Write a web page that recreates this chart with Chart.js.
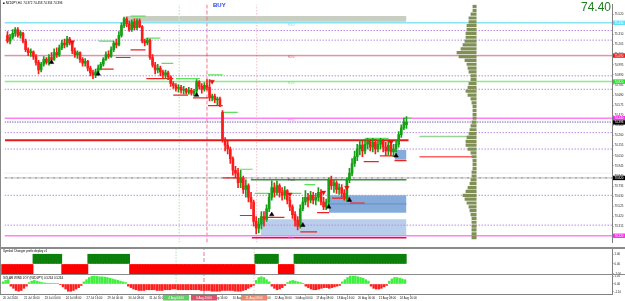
<!DOCTYPE html>
<html><head><meta charset="utf-8">
<script src="https://cdn.jsdelivr.net/npm/chart.js@4.4.1/dist/chart.umd.min.js"></script>
<style>
html,body{margin:0;padding:0;background:#fff;}
body{width:625px;height:301px;position:relative;overflow:hidden;}
canvas{position:absolute;left:0;}
.sep{position:absolute;left:0;width:625px;background:#8a8a8a;}
</style></head><body>
<canvas id="ca" width="625" height="247" style="top:0"></canvas>
<div class="sep" style="top:247px;height:2px"></div>
<canvas id="cb" width="625" height="25" style="top:249px"></canvas>
<div class="sep" style="top:274px;height:1px"></div>
<canvas id="cc" width="625" height="26" style="top:275px"></canvas>
<div style="position:absolute;left:0;top:0;width:1px;height:294px;background:#8a8a8a"></div>
<script>
// ---------------- DATA ----------------
const symbolTitle = "NZDJPY,H4  74.372 74.458 74.334 74.396";
const opens = [75.30,75.24,75.28,75.32,75.36,75.30,75.32,75.24,75.15,75.12,
75.13,75.08,75.02,74.94,75.00,75.05,75.02,75.07,75.05,75.12,
75.10,75.17,75.22,75.20,75.26,75.22,75.14,75.10,75.12,75.05,
75.01,75.03,74.96,74.91,74.89,74.92,74.96,75.00,75.05,75.10,
75.08,75.15,75.22,75.20,75.30,75.40,75.47,75.42,75.36,75.44,
75.38,75.45,75.39,75.24,75.22,75.25,75.07,74.99,74.94,74.96,
74.92,74.89,74.91,74.87,74.80,74.78,74.75,74.76,74.73,74.74,
74.71,74.73,74.70,74.72,74.82,74.77,74.74,74.78,74.76,74.65,
74.67,74.63,74.64,74.50,74.22,74.16,74.12,74.02,73.90,73.87,
73.77,73.82,73.70,73.74,73.62,73.57,73.37,73.30,73.34,73.42,
73.39,73.50,73.62,73.72,73.67,73.74,73.67,73.64,73.69,73.59,
73.52,73.44,73.38,73.32,73.50,73.57,73.62,73.59,73.64,73.59,
73.62,73.67,73.57,73.52,73.57,73.80,73.74,73.77,73.70,73.72,
73.66,73.62,73.80,73.87,73.97,74.04,74.12,74.16,74.10,74.17,
74.20,74.14,74.19,74.12,74.17,74.20,74.14,74.10,74.16,74.09,
74.12,74.17,74.27,74.34,74.372];
const highs = [75.34,75.31,75.36,75.38,75.38,75.35,75.33,75.26,75.17,75.16,
75.14,75.10,75.04,75.02,75.08,75.07,75.10,75.12,75.16,75.17,
75.20,75.25,75.26,75.29,75.28,75.24,75.17,75.14,75.13,75.07,
75.06,75.04,74.98,74.94,74.95,74.99,75.02,75.07,75.13,75.14,
75.18,75.24,75.26,75.34,75.43,75.49,75.49,75.45,75.46,75.47,
75.47,75.47,75.40,75.26,75.27,75.26,75.10,75.02,75.00,74.98,
74.94,74.94,74.93,74.88,74.82,74.80,74.79,74.78,74.77,74.75,
74.76,74.75,74.74,74.84,74.83,74.80,74.81,74.84,74.84,74.69,
74.69,74.66,74.66,74.52,74.24,74.20,74.14,74.04,73.94,73.92,
73.90,73.84,73.80,73.76,73.67,73.59,73.42,73.40,73.47,73.47,
73.54,73.66,73.79,73.77,73.79,73.76,73.72,73.73,73.70,73.62,
73.54,73.47,73.42,73.54,73.62,73.69,73.66,73.68,73.67,73.66,
73.72,73.70,73.62,73.60,73.82,73.84,73.80,73.79,73.76,73.75,
73.70,73.82,73.92,74.02,74.10,74.17,74.21,74.20,74.22,74.23,
74.22,74.23,74.22,74.21,74.23,74.22,74.19,74.20,74.18,74.17,
74.21,74.30,74.37,74.44,74.458];
const lows = [75.22,75.21,75.26,75.29,75.28,75.27,75.22,75.13,75.09,75.08,
75.05,74.99,74.90,74.92,74.98,75.00,74.99,75.01,75.04,75.07,
75.08,75.15,75.17,75.18,75.20,75.11,75.07,75.06,75.02,74.98,
74.98,74.93,74.88,74.85,74.86,74.90,74.94,74.98,75.04,75.06,
75.07,75.13,75.17,75.19,75.28,75.38,75.39,75.34,75.34,75.36,
75.36,75.38,75.22,75.19,75.20,75.05,74.97,74.90,74.91,74.88,
74.86,74.85,74.84,74.77,74.75,74.72,74.71,74.70,74.69,74.69,
74.69,74.68,74.67,74.69,74.74,74.70,74.72,74.73,74.62,74.62,
74.60,74.58,74.56,74.19,74.10,74.07,73.97,73.85,73.82,73.72,
73.72,73.66,73.62,73.57,73.50,73.32,73.24,73.25,73.29,73.32,
73.37,73.47,73.59,73.62,73.64,73.62,73.59,73.60,73.55,73.48,
73.40,73.32,73.28,73.30,73.48,73.54,73.52,73.56,73.55,73.54,
73.58,73.54,73.49,73.49,73.54,73.70,73.67,73.66,73.65,73.62,
73.59,73.58,73.77,73.84,73.94,74.00,74.06,74.04,74.07,74.12,
74.10,74.09,74.07,74.09,74.12,74.09,74.05,74.06,74.05,74.04,
74.09,74.14,74.24,74.32,74.334];
const closes = [75.24,75.28,75.32,75.36,75.30,75.33,75.24,75.15,75.12,75.13,
75.08,75.02,74.94,75.00,75.05,75.02,75.07,75.05,75.12,75.10,
75.17,75.22,75.20,75.26,75.22,75.14,75.10,75.12,75.05,75.01,
75.03,74.96,74.91,74.89,74.92,74.96,75.00,75.05,75.10,75.08,
75.15,75.22,75.20,75.30,75.40,75.47,75.42,75.36,75.44,75.38,
75.45,75.39,75.24,75.22,75.25,75.07,74.99,74.94,74.96,74.92,
74.89,74.91,74.87,74.80,74.78,74.75,74.76,74.73,74.74,74.71,
74.73,74.70,74.72,74.82,74.77,74.74,74.78,74.76,74.65,74.67,
74.63,74.64,74.58,74.22,74.16,74.12,74.02,73.90,73.87,73.77,
73.82,73.70,73.74,73.62,73.57,73.37,73.30,73.34,73.42,73.39,
73.50,73.62,73.72,73.67,73.74,73.67,73.64,73.69,73.59,73.52,
73.44,73.38,73.32,73.50,73.57,73.62,73.59,73.64,73.59,73.62,
73.67,73.57,73.52,73.57,73.80,73.74,73.77,73.70,73.72,73.66,
73.62,73.80,73.87,73.97,74.04,74.12,74.16,74.10,74.17,74.20,
74.14,74.19,74.12,74.17,74.20,74.14,74.10,74.16,74.09,74.12,
74.17,74.27,74.34,74.40,74.396];

const dateTickIdx = [0,8,16,24,32,40,48,56,64,72,80,88,96,104,112,120,128,136,144,152];
const dateLabels = ["20 Jul 2020","21 Jul 16:00","23 Jul 00:00","24 Jul 08:00","27 Jul 16:00","29 Jul 00:00","30 Jul 08:00","31 Jul 16:00","4 Aug 00:00","5 Aug 08:00","6 Aug 16:00","10 Aug 00:00","11 Aug 08:00","12 Aug 16:00","14 Aug 00:00","17 Aug 08:00","18 Aug 16:00","20 Aug 00:00","21 Aug 08:00","24 Aug 16:00"];
const priceTicks = [75.520,75.415,75.310,75.205,75.100,74.995,74.890,74.785,74.680,74.575,74.470,74.365,74.260,74.155,74.050,73.945,73.840,73.735,73.630,73.525,73.420,73.315,73.210];

// full-width levels
const levelPrices = [75.43,75.35,75.25,75.09,74.88,74.82,74.74,74.44,74.40,74.29,74.12,73.87,73.82,73.64,73.33,73.22];
const levelKinds  = ["cyan","dot","dot","res","dot","sup","dot","mag","cur","dot","dot","pale","pivot","dot","dot","mag"];
// partial levels
const partFrom  = [-1, 93.9, 94.3, 159, 159, 124.1];
const partTo    = [154.8, 154, 154, 179.7, 179.7, 154];
const partPrice = [74.21, 73.80, 73.20, 74.25, 74.04, 73.55];
const partKinds = ["red","pgreen","pred","lgreen","lred","blue"];
// zones
const zoneFrom   = [45.6, 97.7, 124.1, 149.4];
const zoneTo     = [154, 154, 154, 154];
const zoneTop    = [75.50, 73.39, 73.64, 74.11];
const zoneBottom = [75.44, 73.22, 73.46, 74.01];
const zoneKinds  = ["gray","lblue","mblue","mblue"];
// swing segments
const swingHighFrom  = [35.2,47.5,53.3,59.4,65.0,77.4,83.1,89.7,95.4,108.8,114.6,137.9,152.9];
const swingHighTo    = [41.0,53.3,59.0,64.0,74.3,83.1,88.9,94.6,101.1,113.4,118.8,147.1,156.0];
const swingHighPrice = [75.24,75.50,75.27,75.01,74.85,74.89,74.50,73.91,73.66,73.66,73.75,74.23,74.44];
const swingLowFrom  = [35.2,41.8,47.5,53.6,64.0,71.6,77.4,83.1,89.7,97.7,113.0,119.5,125.3,132.2,137.5,143.7,149.4];
const swingLowTo    = [41.0,47.5,53.3,64.0,69.7,77.4,83.1,88.9,94.6,106.9,119.5,124.1,132.2,137.9,143.3,149.4,154.0];
const swingLowPrice = [74.95,75.07,75.15,74.85,74.68,74.65,74.57,73.82,73.43,73.41,73.26,73.46,73.61,73.56,73.99,74.05,74.00];
// signal arrows
const buyIdx = [17,35,73,102,114,124,132,150];
const buyPrice = [75.02,74.90,74.68,73.44,73.33,73.52,73.59,74.05];
const sellIdx = [25,79,109,122,131,148];
const sellPrice = [75.23,74.82,73.65,73.67,73.72,74.19];
// vertical lines (bar index)
const vlineIdx = [66.3, 77.0, 96.2];
const vlineKinds = ["vgreen","vpink","vlpink"];
const vlineTexts = ["4 Aug 04:00","6 Aug 20:00","11 Aug 08:00"];
// volume profile
const volPrices = [75.60,75.56,75.52,75.48,75.44,75.40,75.36,75.32,75.28,75.24,75.20,75.16,75.12,75.08,75.04,75.00,74.96,74.92,74.88,74.84,74.80,74.76,74.72,74.68,74.64,74.60,74.56,74.52,74.48,74.44,74.40,74.36,74.32,74.28,74.24,74.20,74.16,74.12,74.08,74.04,74.00,73.96,73.92,73.88,73.84,73.80,73.76,73.72,73.68,73.64,73.60,73.56,73.52,73.48,73.44,73.40,73.36,73.32,73.28,73.24,73.20];
const volSizes  = [4,4,6,8,8,10,10,11,11,12,14,16,20,18,12,10,9,8,6,6,8,9,11,9,6,5,4,4,4,4,5,6,7,8,10,11,11,9,6,5,4,4,4,5,5,6,7,9,11,14,12,10,8,7,6,5,5,5,5,5,5];
// pivot labels
const pivotTexts  = ["R3/0","R2/0","R1/0","PP/0","Pivot","S1/0"];
const pivotPrices = [75.43,75.09,74.82,74.44,73.82,73.22];
const pivotColors = ["#7fe3f5","#e06070","#7ce07c","#ff7cf5","#505050","#ff7cf5"];
// axis tags
const tagPrices = [75.43,75.09,74.82,74.44,74.396,73.82,73.22];
const tagKinds  = ["cyan","red","green","mag","black","black","mag"];
// sub-window 1 state
const trendState = [-1,-1,-1,-1,-1,-1,-1,-1,-1,-1,-1,-1,
1,1,1,1,1,1,1,1,1,1,1,
-1,-1,-1,-1,-1,-1,-1,-1,-1,-1,
1,1,1,1,1,1,1,1,1,1,1,1,1,1,1,1,
-1,-1,-1,-1,-1,-1,-1,-1,-1,-1,-1,-1,-1,-1,-1,-1,-1,-1,-1,-1,-1,-1,-1,-1,-1,-1,-1,-1,-1,-1,-1,-1,-1,-1,-1,-1,-1,-1,-1,-1,-1,-1,-1,-1,-1,-1,-1,-1,
1,1,1,1,1,1,1,1,1,
-1,-1,-1,-1,-1,-1,
1,1,1,1,1,1,1,1,1,1,1,1,1,1,1,1,1,1,1,1,1,1,1,1,1,1,1,1,1,1,1,1,1,1,1,1,1,1,1,1,1,1,1];
// sub-window 2 histogram
const histValues = [0.3,0.5,0.6,
-0.3,-0.6,-0.9,-1.0,-0.9,-0.6,-0.3,
0.2,0.4,0.5,0.4,0.3,
0.2,0.15,0.1,0.1,0.1,0.05,0.05,-0.1,
-0.4,-0.7,-1.0,-1.0,-0.9,-0.7,-0.5,-0.2,
0.3,0.6,0.9,1.05,1.1,1.05,1.0,1.0,0.95,0.9,0.8,0.7,0.6,0.5,0.4,0.3,0.2,
-0.3,-0.5,-0.7,-0.8,-0.9,-0.9,-0.9,-0.8,-0.8,-0.8,-0.8,-0.9,-0.9,-0.9,-0.8,-0.8,-0.8,-0.7,-0.7,-0.8,-0.8,-0.8,-0.8,-0.8,-0.8,-0.8,-0.8,-0.8,-0.9,-0.9,-0.9,-0.9,-1.0,-1.0,-1.0,-1.0,-0.9,-0.9,-0.9,-0.9,-0.9,-1.0,-1.0,-1.0,-0.9,-0.8,-0.6,-0.4,-0.2,
0.5,0.9,1.0,0.9,0.6,0.3,
-0.3,-0.6,-0.8,-0.7,-0.5,-0.2,
0.2,0.4,0.5,0.4,0.3,0.2,0.1,
-0.3,-0.5,-0.7,-0.8,-0.8,-0.7,-0.6,-0.5,-0.5,-0.6,-0.5,-0.4,-0.3,-0.2,
0.3,0.6,0.9,1.1,1.1,1.1,1.0,0.9,0.8,0.6,0.4,
-0.3,-0.6,-0.7,-0.7,-0.6,-0.4,-0.2,
0.4,0.7,0.9,0.9,0.8,0.7,0.6];
const panel1Title = "Symbol Changer prefix deploy v1";
const panel2Title = "SOLAR WIND JOY (NZDJPY) 0.5264 0.5264";

// ---------------- STYLE ----------------
const X_MIN = -1.149, X_MAX = 233.33;
const FONT = "'Liberation Sans','DejaVu Sans',sans-serif";
const TINY = 2.9;
Chart.defaults.font.family = FONT;
Chart.defaults.font.size = TINY;
Chart.defaults.color = '#222';
Chart.defaults.animation = false;
const lineStyle = {
  cyan:{c:'#86e4f4',w:1.5,d:[]}, dot:{c:'#b98be8',w:1,d:[1.5,1.5]}, res:{c:'#b8304c',w:1.5,d:[1,1]},
  sup:{c:'#88ee88',w:1.5,d:[]}, mag:{c:'#ff80f4',w:1.5,d:[]}, cur:{c:'#7a62b8',w:1,d:[1.5,1]},
  pale:{c:'#e6d8f2',w:1,d:[1,1]}, pivot:{c:'#707070',w:1,d:[3,1,1,1]},
  red:{c:'#e81818',w:2,d:[]}, pgreen:{c:'#3f8f3f',w:1.5,d:[]}, pred:{c:'#e0103a',w:1.5,d:[]},
  lgreen:{c:'#96d496',w:1.5,d:[]}, lred:{c:'#ff6464',w:1.5,d:[]}, blue:{c:'#6a8fc4',w:1,d:[]},
  vgreen:{c:'#c8eec8',w:1.5,d:[1.5,1.5]}, vpink:{c:'#f07a90',w:1,d:[4,2]}, vlpink:{c:'#f6c0c8',w:1,d:[1.5,1.5]}
};
const zoneStyle = {gray:'rgba(190,198,182,0.85)', lblue:'rgba(160,190,228,0.75)', mblue:'rgba(112,156,212,0.85)'};
const tagStyle = {cyan:['#5fe0f8','#fff'],red:['#f01818','#fff'],green:['#22e022','#fff'],mag:['#ff2cf0','#fff'],black:['#000','#fff']};
const vmarkBg = {vgreen:'#5fd05f', vpink:'#e0506a', vlpink:'#f08868'};

const overlay = {
  id:'overlay',
  afterDraw(chart, args, o){
    const ctx = chart.ctx, xs = chart.scales.x, ys = chart.scales.y, ca = chart.chartArea;
    ctx.save();
    (o.texts||[]).forEach(t=>{
      ctx.font = t.font; ctx.fillStyle = t.color;
      ctx.textAlign = t.align||'left'; ctx.textBaseline = t.base||'top';
      const x = (t.i!==undefined) ? xs.getPixelForValue(t.i) : t.px;
      const y = (t.p!==undefined) ? ys.getPixelForValue(t.p) : t.py;
      ctx.fillText(t.text, x, y);
    });
    (o.tags||[]).forEach(t=>{
      const y = ys.getPixelForValue(t.p);
      ctx.fillStyle = t.bg; ctx.fillRect(ca.right+1, y-2.2, chart.width-ca.right-1, 4.4);
      ctx.fillStyle = t.fg; ctx.font = TINY+'px '+FONT; ctx.textAlign='left'; ctx.textBaseline='middle';
      ctx.fillText(t.p.toFixed(3), ca.right+2.5, y+0.2);
    });
    (o.marks||[]).forEach(t=>{
      const x = xs.getPixelForValue(t.i), y = ca.bottom+1;
      ctx.fillStyle = t.bg; ctx.fillRect(x-13, y, 26, 5.5);
      ctx.fillStyle = '#fff'; ctx.font = TINY+'px '+FONT; ctx.textAlign='center'; ctx.textBaseline='middle';
      ctx.fillText(t.text, x, y+2.9);
    });
    ctx.restore();
  }
};
Chart.register(overlay);

function hline(from,to,price,st,order){
  return {type:'line', data:[{x:from,y:price},{x:to,y:price}], borderColor:st.c, borderWidth:st.w, borderDash:st.d,
    pointRadius:0, fill:false, order:order, borderCapStyle:'butt'};
}
function vline(idx,st,lo,hi,order){
  return {type:'line', data:[{x:idx,y:lo},{x:idx,y:hi}], borderColor:st.c, borderWidth:st.w, borderDash:st.d,
    pointRadius:0, fill:false, order:order};
}
function segs(from,to,price){
  const d=[];
  for(let k=0;k<from.length;k++){ d.push({x:from[k],y:price[k]},{x:to[k],y:price[k]},{x:to[k],y:null}); }
  return d;
}

// ---------------- MAIN CHART ----------------
const YMIN = 73.15, YMAX = 75.62;
const mainSets = [];
zoneKinds.forEach((k,z)=>{
  mainSets.push({type:'line', data:[{x:zoneFrom[z],y:zoneTop[z]},{x:zoneTo[z],y:zoneTop[z]}], borderWidth:0, borderColor:'rgba(0,0,0,0)', pointRadius:0, fill:'+1', backgroundColor:zoneStyle[k], order:30});
  mainSets.push({type:'line', data:[{x:zoneFrom[z],y:zoneBottom[z]},{x:zoneTo[z],y:zoneBottom[z]}], borderWidth:0, borderColor:'rgba(0,0,0,0)', pointRadius:0, fill:false, order:30});
});
levelPrices.forEach((p,k)=>mainSets.push(hline(X_MIN,X_MAX,p,lineStyle[levelKinds[k]],20)));
partPrice.forEach((p,k)=>mainSets.push(hline(partFrom[k],partTo[k],p,lineStyle[partKinds[k]],19)));
vlineIdx.forEach((v,k)=>mainSets.push(vline(v,lineStyle[vlineKinds[k]],YMIN,YMAX,25)));
mainSets.push({type:'line', data:segs(swingHighFrom,swingHighTo,swingHighPrice), borderColor:'#5ee05e', borderWidth:1.2, pointRadius:0, spanGaps:false, fill:false, order:15});
mainSets.push({type:'line', data:segs(swingLowFrom,swingLowTo,swingLowPrice), borderColor:'#f02020', borderWidth:1.2, pointRadius:0, spanGaps:false, fill:false, order:15});
const volData=[]; volPrices.forEach((p,k)=>{volData.push({x:0,y:p},{x:volSizes[k],y:p},{x:volSizes[k],y:null});});
mainSets.push({type:'line', xAxisID:'xv', data:volData, borderColor:'#7f8f55', borderWidth:3.2, borderCapStyle:'butt', pointRadius:0, spanGaps:false, fill:false, order:14});
const candleColor = closes.map((c,k)=> c>=opens[k] ? '#14a014' : '#ff1a1a');
mainSets.push({type:'bar', data:closes.map((c,k)=>({x:k,y:[lows[k],highs[k]]})), backgroundColor:candleColor, barThickness:1, grouped:false, order:2});
mainSets.push({type:'bar', data:closes.map((c,k)=>({x:k,y:[opens[k],c]})), backgroundColor:candleColor, barThickness:2, minBarLength:1, grouped:false, order:1});
mainSets.push({type:'line', showLine:false, data:buyIdx.map((v,k)=>({x:v,y:buyPrice[k]})), pointStyle:'triangle', pointRadius:2.6, pointBackgroundColor:'#000', pointBorderColor:'#000', pointBorderWidth:0.5, order:0});
mainSets.push({type:'line', showLine:false, data:sellIdx.map((v,k)=>({x:v,y:sellPrice[k]})), pointStyle:'triangle', rotation:180, pointRadius:2.6, pointBackgroundColor:'#e81010', pointBorderColor:'#e81010', pointBorderWidth:0.5, order:0});

const mainTexts = [
  {text:'\u25A0 '+symbolTitle, px:3, py:1.5, font:'3px '+FONT, color:'#000'},
  {text:'BUY', px:213, py:2.5, font:'bold 6px '+FONT, color:'#1f3cf0'},
  {text:'74.40', px:611, py:2, font:'12px '+FONT, color:'#1e7e1e', align:'right'}
];
pivotTexts.forEach((t,k)=>mainTexts.push({text:t, i:109.5, p:pivotPrices[k]-0.006, font:'3px '+FONT, color:pivotColors[k], align:'center'}));

new Chart(document.getElementById('ca'), {
  type:'line',
  data:{datasets:mainSets},
  options:{
    responsive:false, animation:false, events:[],
    layout:{padding:0},
    plugins:{legend:{display:false}, tooltip:{enabled:false},
      overlay:{texts:mainTexts, tags:tagPrices.map((p,k)=>({p:p,bg:tagStyle[tagKinds[k]][0],fg:tagStyle[tagKinds[k]][1]}))}},
    scales:{
      x:{type:'linear', min:X_MIN, max:X_MAX, offset:false, display:false},
      xv:{type:'linear', min:-136, max:474, reverse:true, offset:false, display:false},
      y:{type:'linear', position:'right', min:YMIN, max:YMAX,
        afterFit(s){ s.width=13; s.paddingTop=0; s.paddingBottom=0; },
        afterBuildTicks(s){ s.ticks = priceTicks.map(v=>({value:v})); },
        ticks:{font:{size:TINY}, padding:1, autoSkip:false, callback:v=>v.toFixed(3)},
        grid:{drawOnChartArea:false, tickLength:1.5, color:'#808080'},
        border:{display:true, color:'#808080', width:1}}
    }
  }
});

// ---------------- SUB WINDOW 1 ----------------
const bSets = [];
vlineIdx.forEach((v,k)=>bSets.push(vline(v,lineStyle[vlineKinds[k]],-1.03,1.54,25)));
bSets.push({type:'bar', data:trendState.map((s,k)=>({x:k,y:s})), backgroundColor:trendState.map(s=>s>0?'#0b800b':'#ff0000'), barThickness:2.8, grouped:false, order:1});
new Chart(document.getElementById('cb'), {
  type:'line',
  data:{datasets:bSets},
  options:{
    responsive:false, animation:false, events:[], layout:{padding:0},
    plugins:{legend:{display:false}, tooltip:{enabled:false},
      overlay:{texts:[{text:panel1Title, px:3, py:1, font:'3px '+FONT, color:'#000'}]}},
    scales:{
      x:{type:'linear', min:X_MIN, max:X_MAX, offset:false, display:false},
      y:{type:'linear', position:'right', min:-1.03, max:1.54,
        afterFit(s){ s.width=13; s.paddingTop=0; s.paddingBottom=0; },
        afterBuildTicks(s){ s.ticks=[{value:1},{value:0},{value:-1}]; },
        ticks:{font:{size:TINY}, padding:1, callback:v=>v.toFixed(2)},
        grid:{drawOnChartArea:false, tickLength:1.5, color:'#808080'},
        border:{display:true, color:'#808080'}}
    }
  }
});

// ---------------- SUB WINDOW 2 ----------------
const cSets = [];
vlineIdx.forEach((v,k)=>cSets.push(vline(v,lineStyle[vlineKinds[k]],-1.39,1.25,25)));
cSets.push({type:'bar', data:histValues.map((h,k)=>({x:k,y:h})), backgroundColor:histValues.map(h=>h>=0?'#3cf03c':'#ff1e1e'), barThickness:1.8, grouped:false, order:1});
new Chart(document.getElementById('cc'), {
  type:'line',
  data:{datasets:cSets},
  options:{
    responsive:false, animation:false, events:[], layout:{padding:0},
    plugins:{legend:{display:false}, tooltip:{enabled:false},
      overlay:{texts:[{text:panel2Title, px:3, py:1.5, font:'3px '+FONT, color:'#000'}],
        marks:vlineIdx.map((v,k)=>({i:v, text:vlineTexts[k], bg:vmarkBg[vlineKinds[k]]}))}},
    scales:{
      x:{type:'linear', min:X_MIN, max:X_MAX, offset:false, position:'bottom',
        afterFit(s){ s.height=7; },
        afterBuildTicks(s){ s.ticks = dateTickIdx.map(v=>({value:v})); },
        ticks:{font:{size:TINY}, padding:1, maxRotation:0, minRotation:0, autoSkip:false, align:'start',
          callback:(v,idx)=>dateLabels[idx]},
        grid:{drawOnChartArea:false, tickLength:1.5, color:'#808080'},
        border:{display:true, color:'#808080'}},
      y:{type:'linear', position:'right', min:-1.39, max:1.25,
        afterFit(s){ s.width=13; s.paddingTop=0; s.paddingBottom=0; },
        afterBuildTicks(s){ s.ticks=[{value:1.1},{value:0},{value:-1.1}]; },
        ticks:{font:{size:TINY}, padding:1, callback:v=>v.toFixed(2)},
        grid:{drawOnChartArea:false, tickLength:1.5, color:'#808080'},
        border:{display:true, color:'#808080'}}
    }
  }
});
</script>
</body></html>
